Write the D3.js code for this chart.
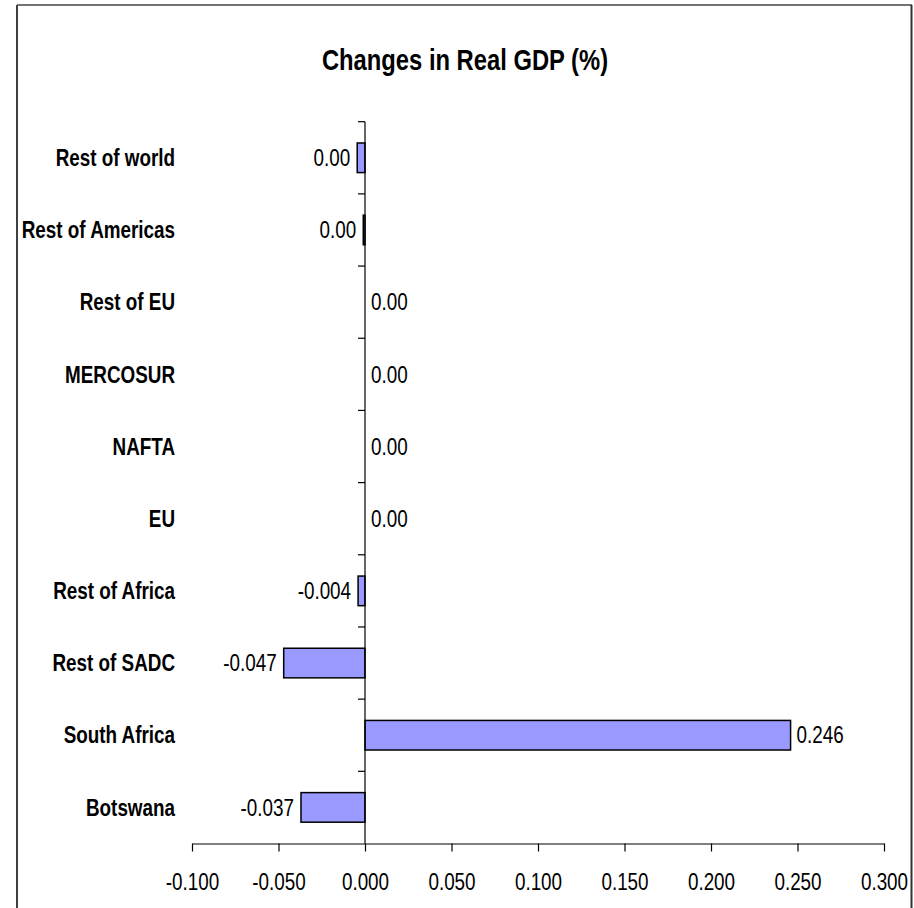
<!DOCTYPE html>
<html>
<head>
<meta charset="utf-8">
<script src="https://cdn.jsdelivr.net/npm/d3@7"></script>
<style>
  html, body { margin: 0; padding: 0; background: #fff; }
  svg { display: block; }
</style>
</head>
<body>
<svg id="chart" width="914" height="908"></svg>
<script>
// ---- Data ----
const categories = ["Rest of world", "Rest of Americas", "Rest of EU", "MERCOSUR", "NAFTA", "EU", "Rest of Africa", "Rest of SADC", "South Africa", "Botswana"];
const values = [-0.0045, -0.001, 0, 0, 0, 0, -0.004, -0.047, 0.246, -0.037];
const valueLabels = ["0.00", "0.00", "0.00", "0.00", "0.00", "0.00", "-0.004", "-0.047", "0.246", "-0.037"];
const xTicks = [-0.1, -0.05, 0, 0.05, 0.1, 0.15, 0.2, 0.25, 0.3];
const titleText = "Changes in Real GDP (%)";

// ---- Font detection: narrow font or scaled fallback ----
function fontAvailable(name) {
  const c = document.createElement("canvas").getContext("2d");
  const s = "Rest of Americas 0.050";
  c.font = "40px monospace"; const a = c.measureText(s).width;
  c.font = "40px '" + name + "', monospace"; const b = c.measureText(s).width;
  return Math.abs(a - b) > 0.5;
}
const hasNarrow = fontAvailable("Liberation Sans Narrow");
const FONT = hasNarrow ? "'Liberation Sans Narrow', 'Arial Narrow', sans-serif" : "'Liberation Sans', Arial, sans-serif";
const SX = hasNarrow ? 1 : 0.82;

const svg = d3.select("#chart");

// Outer frame
svg.append("line").attr("x1", 17).attr("x2", 17).attr("y1", 5).attr("y2", 908).attr("stroke", "#000").attr("stroke-width", 1.5);
svg.append("line").attr("x1", 17).attr("x2", 912).attr("y1", 5).attr("y2", 5).attr("stroke", "#444").attr("stroke-width", 1.5);
svg.append("line").attr("x1", 911.5).attr("x2", 911.5).attr("y1", 5).attr("y2", 908).attr("stroke", "#333").attr("stroke-width", 2);

// helper: place text with optional horizontal compression
function placeText(x, y, txt, opts) {
  const g = svg.append("g").attr("transform", `translate(${x},${y}) scale(${SX},1)`);
  return g.append("text")
    .attr("x", 0).attr("y", 0)
    .attr("font-family", FONT)
    .attr("font-size", opts.size)
    .attr("font-weight", opts.weight || "normal")
    .attr("text-anchor", opts.anchor || "start")
    .attr("dominant-baseline", "central")
    .attr("fill", "#000")
    .text(txt);
}

// Title
placeText(465, 60, titleText, { size: 29, weight: "bold", anchor: "middle" });

// Scales
const x = d3.scaleLinear().domain([-0.1, 0.3]).range([192, 884]);
const y = d3.scaleBand().domain(categories).range([121.7, 843.5]).paddingInner(0).paddingOuter(0);
const barH = y.bandwidth() * 0.41;

// Bars
svg.append("g").selectAll("rect").data(values).join("rect")
  .attr("x", d => Math.min(x(d), x(0)))
  .attr("width", d => Math.abs(x(d) - x(0)))
  .attr("y", (d, i) => y(categories[i]) + (y.bandwidth() - barH) / 2)
  .attr("height", barH)
  .attr("fill", "#9999ff")
  .attr("stroke", "#000")
  .attr("stroke-width", 1.5)
  .attr("display", d => d === 0 ? "none" : null);

// X axis
const fmt = d3.formatLocale({ decimal: ".", thousands: ",", grouping: [3], currency: ["", ""], minus: "-" }).format(".3f");
const xAxis = d3.axisBottom(x).tickValues(xTicks).tickFormat(fmt).tickSize(8).tickSizeOuter(0);
const gx = svg.append("g").attr("transform", `translate(0,${843.5})`).call(xAxis);
gx.select(".domain").attr("stroke", "#000").attr("stroke-width", 1.2);
gx.selectAll(".tick line").attr("stroke", "#000").attr("stroke-width", 1.2);
gx.selectAll(".tick text")
  .attr("font-family", FONT).attr("font-size", 23).attr("fill", "#000")
  .attr("y", 0).attr("dy", null)
  .attr("dominant-baseline", "central")
  .attr("transform", `translate(0,38) scale(${SX},1)`);

// Y axis at x = 0 (ticks between categories)
const yAxisG = svg.append("g");
yAxisG.append("line").attr("x1", x(0)).attr("x2", x(0)).attr("y1", y.range()[0]).attr("y2", y.range()[1])
  .attr("stroke", "#000").attr("stroke-width", 1.2);
const boundaries = categories.map(c => y(c));
yAxisG.selectAll("line.tk").data(boundaries).join("line").attr("class", "tk")
  .attr("x1", x(0) - 7).attr("x2", x(0)).attr("y1", d => d).attr("y2", d => d)
  .attr("stroke", "#000").attr("stroke-width", 1.2);

// Category labels
categories.forEach((c, i) => {
  placeText(175, y(c) + y.bandwidth() / 2, c, { size: 23, weight: "bold", anchor: "end" });
});

// Value labels
values.forEach((v, i) => {
  const cy = y(categories[i]) + y.bandwidth() / 2;
  if (v < 0) placeText(x(v) - 7, cy, valueLabels[i], { size: 23, anchor: "end" });
  else placeText(x(v) + 6, cy, valueLabels[i], { size: 23, anchor: "start" });
});
</script>
</body>
</html>
